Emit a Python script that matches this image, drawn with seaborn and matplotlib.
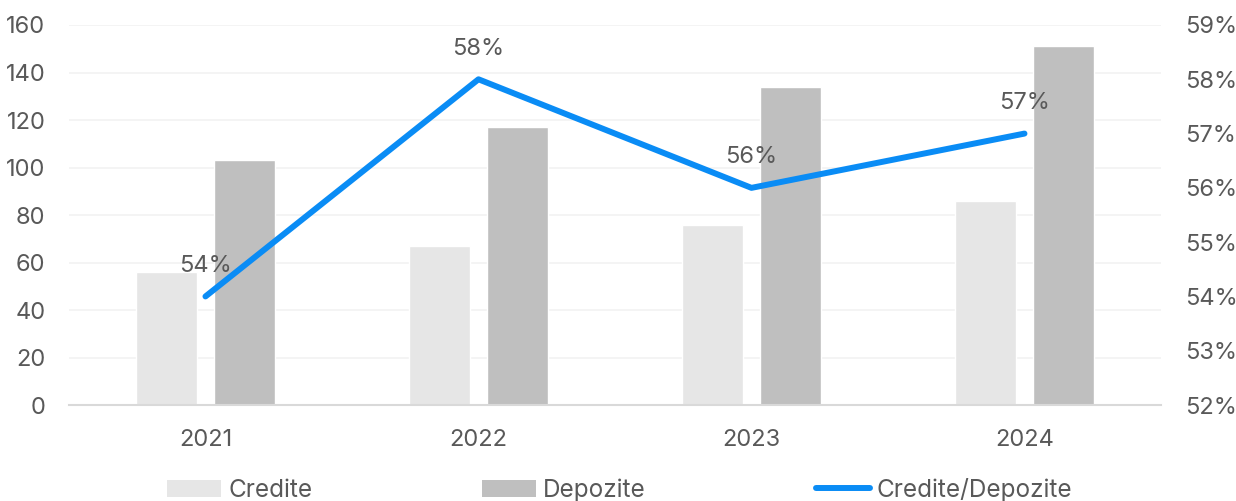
import numpy as np
import pandas as pd
import matplotlib
matplotlib.use("Agg")
import matplotlib.pyplot as plt
import seaborn as sns
from matplotlib.ticker import FuncFormatter
from matplotlib.patches import Patch
from matplotlib.lines import Line2D

years = ["2021", "2022", "2023", "2024"]
credite = [56, 67, 76, 86]
depozite = [103, 117, 134, 151]
ratio = [0.54, 0.58, 0.56, 0.57]
ratio_labels = ["54%", "58%", "56%", "57%"]

sns.set_theme(style="white")
plt.rcParams["font.family"] = ["Inter", "DejaVu Sans"]
TXT = "#595959"
FS = 17

df = pd.DataFrame({
    "An": years * 2,
    "Valoare": credite + depozite,
    "Serie": ["Credite"] * 4 + ["Depozite"] * 4,
})

fig = plt.figure(figsize=(12.36, 5.01), dpi=100)
ax = fig.add_axes([0.0558, 0.1916, 0.8835, 0.7585])

sns.barplot(data=df, x="An", y="Valoare", hue="Serie", ax=ax,
            palette={"Credite": "#e6e6e6", "Depozite": "#bfbfbf"},
            width=0.572, gap=0.22, legend=False, saturation=1)

ax.set_xlim(-0.5, 3.5)
ax.set_ylim(0, 160)
ax.set_yticks(range(0, 161, 20))
ax.grid(axis="y", color="#f2f2f2", linewidth=1.2)
ax.set_axisbelow(True)
for s in ["top", "right", "left"]:
    ax.spines[s].set_visible(False)
ax.spines["bottom"].set_color("#d9d9d9")
ax.spines["bottom"].set_linewidth(1.5)
ax.tick_params(axis="y", length=0, pad=17, labelsize=FS, labelcolor=TXT)
ax.tick_params(axis="x", length=0, pad=17, labelsize=FS, labelcolor=TXT)
ax.set_xlabel("")
ax.set_ylabel("")

ax2 = ax.twinx()
xs = np.arange(len(years))
sns.lineplot(x=xs, y=ratio, ax=ax2, color="#0a8cf5", linewidth=4.3,
             solid_capstyle="round", legend=False)
ax2.set_ylim(0.52, 0.59)
ax2.set_yticks(np.arange(0.52, 0.5901, 0.01))
ax2.yaxis.set_major_formatter(FuncFormatter(lambda v, p: f"{v*100:.0f}%"))
for s in ["top", "right", "left", "bottom"]:
    ax2.spines[s].set_visible(False)
ax2.tick_params(axis="y", length=0, pad=17, labelsize=FS, labelcolor=TXT)
ax2.set_ylabel("")
ax2.set_xlim(-0.5, 3.5)

for x, y, t in zip(xs, ratio, ratio_labels):
    ax2.annotate(t, (x, y), xytext=(0, 22), textcoords="offset points",
                 ha="center", va="center", fontsize=FS, color=TXT)

handles = [Patch(facecolor="#e6e6e6", edgecolor="none"),
           Patch(facecolor="#bfbfbf", edgecolor="none"),
           Line2D([0], [0], color="#0a8cf5", linewidth=4.3, solid_capstyle="round")]
labels = ["Credite", "Depozite", "Credite/Depozite"]
leg = fig.legend(handles, labels, loc="center", bbox_to_anchor=(0.5016, 0.022),
                 ncol=3, frameon=False, fontsize=17.5, handlelength=2.2,
                 handletextpad=0.3, columnspacing=7.0, labelcolor=TXT)

fig.savefig("out.png", dpi=100)
